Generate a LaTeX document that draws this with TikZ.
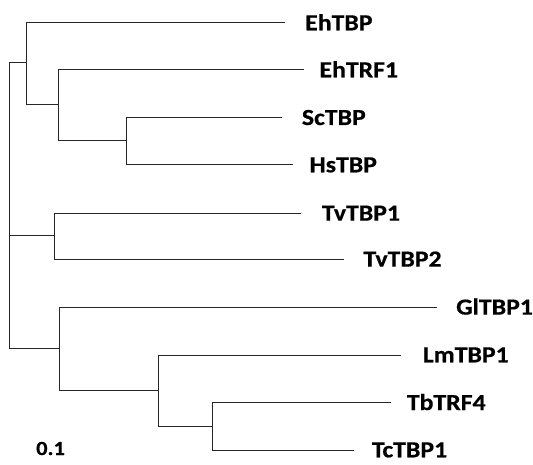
\documentclass[tikz,border=0pt]{standalone}
\usepackage{fontspec}
\setmainfont{Carlito}
\newfontfamily\treefont{Carlito}[FakeStretch=1.12, BoldFeatures={FakeBold=0.6}]
\begin{document}
\begin{tikzpicture}[x=1pt,y=-1pt,
  branch/.style={draw=black!85, line width=1pt},
  taxon/.style={anchor=base west, inner sep=0pt, font=\treefont\bfseries\fontsize{23}{23}\selectfont},
  scalelbl/.style={anchor=base west, inner sep=0pt, font=\treefont\bfseries\fontsize{20}{20}\selectfont}]
\useasboundingbox (0,0) rectangle (533,465);
% internal nodes
\coordinate (root) at (9,63);
\coordinate (rootb) at (9,348.3);
\coordinate (nA) at (26.7,63);
\coordinate (nB) at (58.7,105);
\coordinate (nC) at (126.7,141);
\coordinate (nD) at (54,236);
\coordinate (nE) at (59.3,348.3);
\coordinate (nF) at (158,390);
\coordinate (nG) at (212,426);
% leaf tips
\coordinate (lEhTBP) at (285,23);
\coordinate (lEhTRF) at (304,70);
\coordinate (lScTBP) at (281.7,117.7);
\coordinate (lHsTBP) at (293.3,165);
\coordinate (lTv1) at (300.7,213.3);
\coordinate (lTv2) at (344.3,259.3);
\coordinate (lGl) at (436.7,307.3);
\coordinate (lLm) at (400.7,355);
\coordinate (lTb) at (391,402.7);
\coordinate (lTc) at (354.3,450);
% taxon names
\node[taxon] (tEhTBP) at (305,30.3) {EhTBP};
\node[taxon] (tEhTRF) at (319.3,77.3) {EhTRF1};
\node[taxon] (tScTBP) at (301.7,125) {ScTBP};
\node[taxon] (tHsTBP) at (309.3,172.3) {HsTBP};
\node[taxon] (tTv1) at (321.7,220.6) {TvTBP1};
\node[taxon] (tTv2) at (363.3,266.6) {TvTBP2};
\node[taxon] (tGl) at (456,314.6) {GlTBP1};
\node[taxon] (tLm) at (422.7,362.3) {LmTBP1};
\node[taxon] (tTb) at (406.7,410) {TbTRF4};
\node[taxon] (tTc) at (371.7,457.3) {TcTBP1};
\node[scalelbl] (scale) at (36,455) {0.1};
% branches
\draw[branch] (root) -- (rootb);
\draw[branch] (root) -- (nA);
\draw[branch] (nA) |- (lEhTBP);
\draw[branch] (nA) |- (nB);
\draw[branch] (nB) |- (lEhTRF);
\draw[branch] (nB) |- (nC);
\draw[branch] (nC) |- (lScTBP);
\draw[branch] (nC) |- (lHsTBP);
\draw[branch] (root |- nD) -- (nD);
\draw[branch] (nD) |- (lTv1);
\draw[branch] (nD) |- (lTv2);
\draw[branch] (rootb) -- (nE);
\draw[branch] (nE) |- (lGl);
\draw[branch] (nE) |- (nF);
\draw[branch] (nF) |- (lLm);
\draw[branch] (nF) |- (nG);
\draw[branch] (nG) |- (lTb);
\draw[branch] (nG) |- (lTc);
\end{tikzpicture}
\end{document}
